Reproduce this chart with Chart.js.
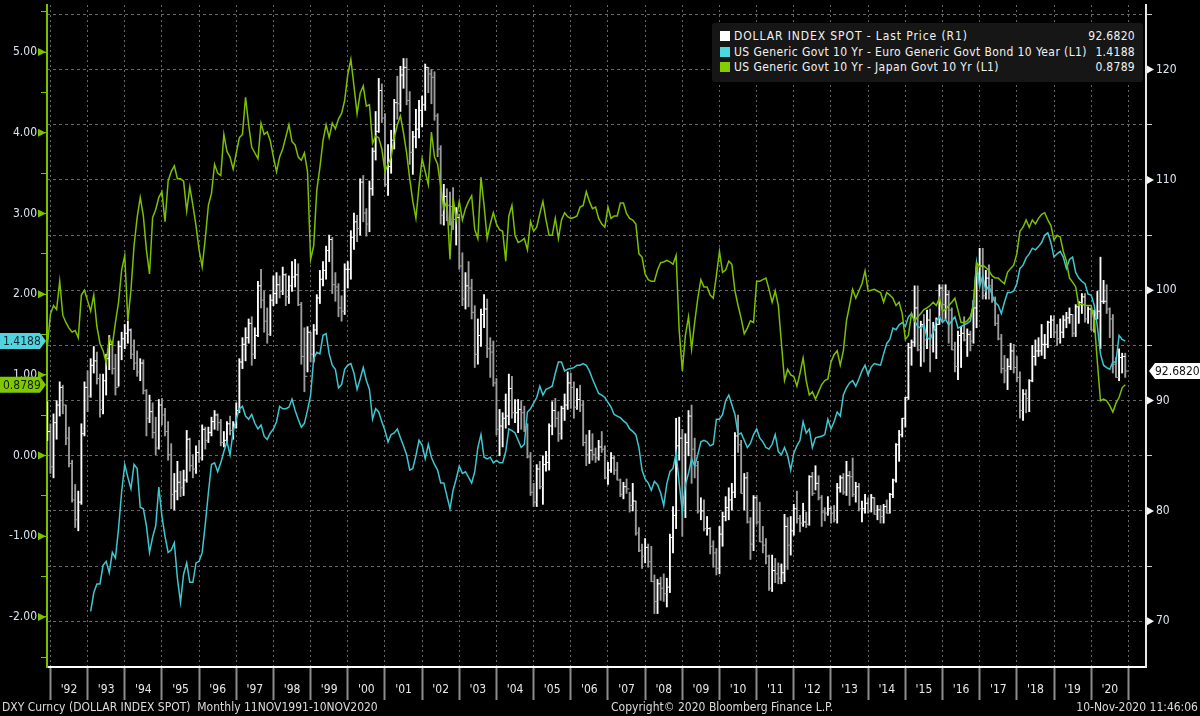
<!DOCTYPE html>
<html>
<head>
<meta charset="utf-8">
<title>DXY vs US 10Y spreads</title>
<script src="https://cdn.jsdelivr.net/npm/chart.js@4.4.1/dist/chart.umd.min.js"></script>
<style>
  html, body { margin: 0; padding: 0; background: #000; }
  #wrap { position: relative; width: 1200px; height: 716px; overflow: hidden; background: #000;
          font-family: 'DejaVu Sans Condensed', 'DejaVu Sans', sans-serif; }
  #chart { position: absolute; left: 0; top: 0; }
  #legend { position: absolute; left: 712px; top: 23px; width: 431px; height: 59px;
            background: #161616; border-radius: 3px; color: #f2f2f2; font-size: 12px; }
  #legend .row { position: absolute; left: 8px; right: 8px; height: 15px; line-height: 15px; white-space: nowrap; }
  #legend .sq { position: absolute; left: 0; top: 2px; width: 10px; height: 10px; }
  #legend .lbl { position: absolute; left: 14px; letter-spacing: 0.4px; }
  #legend .lbl.wide { letter-spacing: 0.9px; }
  #legend .val { position: absolute; right: 0; letter-spacing: 0.3px; }
  .foot { position: absolute; top: 699px; line-height: 16px; font-size: 12px; color: #dcdcdc; white-space: nowrap; }
</style>
</head>
<body>
<div id="wrap">
  <canvas id="chart" width="1200" height="716"></canvas>
  <div id="legend">
    <div class="row" style="top:6px"><span class="sq" style="background:#ffffff"></span><span class="lbl wide">DOLLAR INDEX SPOT - Last Price (R1)</span><span class="val" id="vDxy"></span></div>
    <div class="row" style="top:22px"><span class="sq" style="background:#4dd8e0"></span><span class="lbl">US Generic Govt 10 Yr - Euro Generic Govt Bond 10 Year (L1)</span><span class="val" id="vEuro"></span></div>
    <div class="row" style="top:37px"><span class="sq" style="background:#84cc00"></span><span class="lbl">US Generic Govt 10 Yr - Japan Govt 10 Yr (L1)</span><span class="val" id="vJapan"></span></div>
  </div>
  <span class="foot" style="left:2px">DXY Curncy (DOLLAR INDEX SPOT)&nbsp; Monthly 11NOV1991-10NOV2020</span>
  <span class="foot" style="left:611px">Copyright© 2020 Bloomberg Finance L.P.</span>
  <span class="foot" style="right:2px">10-Nov-2020 11:46:06</span>
</div>
<script>
// monthly bars, Nov 1991 .. Nov 2020 (one row per year)
const dxyHigh = [
  89.9, 87.9,
  88.8, 90.0, 91.7, 91.4, 89.6, 87.6, 84.6, 82.4, 81.8, 87.9, 91.7, 92.7,
  93.8, 94.9, 94.4, 92.4, 92.4, 94.2, 95.9, 95.4, 94.2, 95.4, 96.2, 96.9,
  97.2, 96.5, 95.5, 94.5, 93.8, 93.7, 91.0, 90.5, 89.8, 88.5, 90.1, 90.2,
  89.3, 88.1, 86.1, 83.4, 84.5, 83.6, 83.7, 87.3, 86.6, 85.1, 85.9, 86.4,
  87.8, 87.6, 87.6, 88.5, 89.1, 88.8, 88.3, 87.2, 88.1, 88.6, 88.1, 89.8,
  93.8, 95.7, 96.6, 97.4, 97.6, 96.6, 100.8, 101.9, 99.9, 98.4, 99.6, 101.3,
  101.6, 101.3, 102.1, 101.5, 101.3, 102.6, 102.8, 102.4, 98.9, 96.6, 96.7, 96.2,
  96.9, 99.6, 101.8, 102.6, 104.0, 105.0, 104.8, 101.6, 100.6, 99.5, 102.4, 102.6,
  105.4, 107.0, 106.8, 110.1, 110.4, 107.4, 109.9, 112.9, 116.2, 119.2, 118.7, 116.0,
  113.2, 114.5, 117.3, 119.4, 120.3, 121.0, 121.0, 118.0, 114.4, 116.4, 117.2, 117.6,
  120.5, 120.2, 120.0, 119.8, 116.0, 113.1, 109.6, 109.2, 108.9, 109.3, 107.5, 106.9,
  103.4, 101.6, 102.6, 101.0, 98.6, 97.4, 98.3, 99.6, 99.2, 95.7, 95.4, 92.0,
  89.2, 88.9, 90.6, 92.4, 92.2, 90.1, 90.1, 90.0, 89.5, 87.9, 85.3, 82.5,
  84.2, 84.5, 85.0, 85.4, 87.9, 89.9, 90.2, 89.0, 89.5, 90.6, 92.6, 92.5,
  91.7, 91.1, 91.4, 90.0, 86.9, 87.3, 87.0, 85.7, 86.4, 87.2, 85.9, 84.4,
  85.3, 85.0, 84.4, 82.9, 82.6, 82.9, 81.7, 82.5, 80.9, 78.5, 77.0, 77.5,
  77.0, 76.8, 74.2, 73.8, 74.0, 74.3, 73.9, 77.9, 80.4, 88.4, 88.5, 87.4,
  87.0, 89.1, 89.6, 86.6, 84.5, 81.2, 81.0, 79.5, 78.5, 77.3, 76.6, 78.6,
  79.9, 81.3, 82.1, 82.5, 87.1, 88.7, 86.4, 83.4, 83.5, 79.4, 81.4, 81.4,
  80.8, 78.6, 77.5, 76.0, 76.0, 75.7, 75.3, 75.2, 79.7, 79.4, 79.5, 80.6,
  81.8, 79.6, 80.7, 79.9, 83.2, 83.5, 84.1, 83.2, 81.4, 80.3, 81.3, 80.4,
  80.5, 82.5, 83.2, 83.4, 84.5, 83.6, 84.8, 82.6, 82.5, 80.9, 81.5, 81.2,
  81.5, 81.2, 80.5, 80.5, 80.6, 81.0, 81.6, 82.9, 86.1, 87.3, 88.4, 90.3,
  95.2, 95.5, 100.4, 100.4, 97.2, 97.8, 98.2, 98.3, 97.1, 97.5, 100.5, 100.5,
  100.5, 99.9, 98.4, 95.3, 96.3, 96.7, 97.6, 96.5, 96.3, 99.1, 102.1, 103.8,
  103.8, 101.8, 102.3, 101.0, 99.4, 97.8, 96.0, 94.1, 93.8, 95.2, 95.1, 94.0,
  92.6, 91.0, 91.0, 91.9, 95.0, 95.5, 95.7, 96.9, 96.0, 97.2, 97.7, 97.7,
  96.9, 97.4, 97.7, 98.0, 98.4, 97.8, 98.7, 99.0, 99.7, 99.7, 98.5, 98.4,
  98.2, 99.9, 103.0, 100.9, 100.5, 98.4, 97.8, 93.9, 94.7, 94.3, 94.3
];
const dxyLow = [
  86.4, 83.4,
  83.0, 86.5, 88.6, 88.8, 86.0, 84.0, 80.8, 78.5, 78.2, 80.6, 86.8, 89.0,
  90.3, 92.5, 91.5, 88.5, 88.8, 90.5, 92.8, 92.4, 90.5, 91.3, 93.7, 94.7,
  95.2, 93.8, 92.8, 92.2, 91.8, 90.6, 86.8, 88.0, 86.6, 85.1, 85.6, 87.8,
  86.8, 84.6, 80.2, 80.1, 81.0, 81.3, 81.4, 82.6, 83.6, 83.0, 83.4, 84.4,
  84.6, 85.6, 86.2, 86.8, 87.4, 87.3, 85.9, 85.8, 86.2, 86.9, 86.5, 87.5,
  88.9, 92.9, 93.6, 95.2, 93.2, 93.8, 95.8, 98.4, 96.2, 95.2, 95.9, 98.6,
  98.8, 99.3, 99.6, 98.6, 98.8, 99.9, 100.3, 98.6, 93.3, 90.8, 92.6, 93.5,
  93.5, 96.0, 98.8, 100.4, 101.0, 102.6, 99.7, 99.0, 97.6, 97.2, 97.8, 100.2,
  101.0, 103.7, 104.4, 105.0, 106.2, 104.9, 105.3, 108.6, 111.8, 114.3, 115.2, 109.4,
  108.6, 110.6, 112.8, 115.5, 116.2, 118.3, 116.8, 111.4, 110.5, 112.9, 113.8, 114.8,
  116.3, 117.9, 116.9, 115.4, 112.1, 106.0, 105.9, 106.3, 105.9, 105.5, 104.1, 101.9,
  98.6, 98.3, 98.5, 97.4, 93.0, 93.3, 94.9, 96.6, 93.9, 92.1, 91.3, 86.9,
  85.0, 85.8, 87.5, 87.8, 88.4, 88.0, 87.1, 87.4, 87.2, 84.8, 81.4, 80.4,
  80.4, 82.0, 80.6, 83.6, 83.7, 86.9, 87.6, 86.3, 86.5, 88.2, 89.2, 89.3,
  88.4, 89.2, 89.0, 85.9, 84.1, 84.3, 84.6, 84.4, 84.6, 85.3, 82.9, 82.4,
  83.5, 83.3, 82.8, 81.3, 81.1, 81.6, 79.9, 80.0, 77.8, 76.3, 74.8, 75.3,
  74.9, 73.6, 70.7, 70.7, 71.9, 71.8, 71.3, 72.6, 76.2, 78.4, 84.6, 77.7,
  79.4, 85.0, 82.5, 83.0, 79.8, 79.2, 78.2, 77.8, 76.1, 74.9, 74.2, 74.3,
  76.8, 79.1, 79.2, 80.1, 81.2, 85.3, 81.6, 80.1, 78.9, 75.6, 76.4, 78.8,
  77.2, 76.2, 75.2, 72.8, 72.7, 73.5, 73.4, 73.4, 73.6, 74.7, 76.0, 77.8,
  78.9, 78.1, 78.6, 78.5, 78.7, 81.4, 81.9, 81.0, 78.6, 79.1, 79.6, 78.9,
  79.0, 78.9, 81.7, 81.5, 81.4, 80.5, 81.3, 80.8, 80.0, 79.0, 79.8, 79.8,
  79.9, 79.7, 79.2, 78.9, 78.9, 79.8, 79.8, 81.2, 82.6, 84.5, 86.7, 87.6,
  90.1, 93.2, 94.9, 94.5, 93.1, 93.5, 94.7, 92.6, 94.4, 93.8, 96.9, 97.2,
  97.4, 95.2, 94.6, 92.6, 91.9, 93.0, 95.4, 94.0, 94.5, 95.2, 96.6, 100.6,
  99.2, 99.2, 99.2, 98.9, 96.8, 95.5, 92.5, 91.6, 91.0, 92.8, 92.5, 91.7,
  88.4, 88.2, 88.9, 89.0, 91.7, 93.2, 94.0, 94.1, 93.8, 94.8, 95.7, 95.7,
  95.0, 95.2, 95.7, 96.6, 97.0, 95.8, 95.8, 97.0, 97.9, 97.1, 97.0, 96.4,
  96.2, 97.4, 94.7, 98.8, 97.9, 95.7, 92.5, 92.1, 91.8, 92.5, 92.1
];
const dxyClose = [
  87.2, 84.0,
  88.0, 89.6, 91.2, 89.6, 86.6, 84.3, 81.0, 79.2, 80.8, 87.0, 91.2, 90.4,
  93.2, 93.6, 92.0, 89.2, 91.8, 93.8, 95.1, 92.9, 91.2, 94.9, 95.6, 96.1,
  96.4, 94.2, 93.4, 92.6, 93.4, 90.9, 88.4, 89.0, 87.1, 85.7, 89.6, 88.7,
  87.2, 85.1, 81.5, 81.8, 82.6, 82.1, 82.8, 86.5, 84.1, 83.8, 85.3, 84.8,
  87.4, 86.4, 87.1, 88.1, 88.7, 88.0, 86.2, 86.4, 87.9, 87.3, 87.8, 89.1,
  93.5, 95.1, 95.7, 97.0, 94.2, 95.9, 100.4, 99.1, 97.2, 96.0, 99.1, 99.7,
  100.5, 99.9, 101.4, 99.4, 100.4, 101.2, 101.4, 98.7, 94.0, 92.2, 96.2, 94.2,
  96.4, 99.3, 101.0, 101.8, 103.6, 104.6, 100.5, 100.3, 98.4, 98.1, 101.9, 101.9,
  104.8, 106.2, 105.6, 109.8, 107.0, 106.0, 109.2, 112.6, 114.4, 118.1, 115.6, 109.6,
  111.2, 113.6, 117.0, 116.9, 119.5, 120.2, 117.2, 112.5, 113.9, 114.6, 116.3, 116.8,
  120.2, 119.6, 119.3, 115.8, 112.8, 106.8, 108.5, 107.7, 107.6, 106.4, 106.6, 102.2,
  99.2, 100.4, 100.2, 98.0, 94.2, 95.9, 97.8, 98.3, 94.7, 94.4, 91.6, 87.4,
  87.7, 88.4, 88.6, 91.1, 88.9, 88.9, 89.2, 88.9, 87.6, 84.9, 81.7, 80.8,
  83.8, 82.2, 84.2, 84.4, 87.7, 89.1, 88.4, 87.0, 89.3, 89.6, 91.6, 91.2,
  89.4, 90.1, 89.6, 86.2, 85.1, 85.5, 85.1, 84.8, 85.8, 85.6, 83.0, 83.7,
  84.8, 83.7, 82.8, 81.5, 82.2, 82.0, 80.5, 80.9, 78.0, 76.4, 75.9, 76.7,
  75.4, 73.6, 71.8, 73.4, 73.0, 72.5, 73.1, 77.6, 79.6, 85.9, 86.6, 81.3,
  86.2, 88.6, 85.6, 84.1, 80.0, 80.0, 78.4, 78.4, 76.8, 76.2, 74.8, 77.9,
  79.5, 80.3, 81.0, 81.7, 86.8, 86.0, 81.6, 83.0, 79.0, 77.0, 81.2, 79.0,
  77.2, 76.9, 75.9, 73.0, 74.6, 74.3, 73.9, 74.4, 78.6, 76.9, 78.2, 80.2,
  79.3, 78.9, 79.0, 78.8, 83.1, 81.6, 82.5, 81.2, 79.9, 79.8, 80.2, 79.8,
  79.2, 82.1, 83.0, 81.7, 83.2, 83.1, 81.5, 82.2, 80.2, 80.2, 80.7, 80.0,
  81.2, 79.7, 80.1, 79.5, 80.4, 79.8, 81.5, 82.8, 86.0, 86.9, 88.4, 90.3,
  94.8, 95.3, 98.4, 94.6, 96.9, 95.5, 97.3, 95.8, 96.4, 96.9, 100.2, 98.7,
  99.6, 98.2, 94.6, 93.1, 95.9, 96.1, 95.5, 96.0, 95.4, 98.4, 101.5, 102.2,
  99.5, 101.1, 100.4, 99.1, 97.0, 95.6, 92.9, 92.7, 93.1, 94.5, 93.0, 92.1,
  89.1, 90.6, 90.2, 91.8, 94.0, 94.5, 94.5, 95.1, 95.1, 97.1, 97.3, 96.2,
  95.6, 96.2, 97.3, 97.5, 97.8, 96.1, 98.5, 98.9, 99.4, 97.4, 98.3, 96.4,
  97.4, 98.1, 99.0, 99.0, 98.3, 97.4, 93.3, 92.1, 93.9, 94.0, 92.682
];
// US 10Y minus Bund 10Y (L1), series starts in 1993
const euroSpread = [
  null, null,
  null, null, null, null, null, null, null, null, null, null, null, null,
  -1.93, -1.70, -1.59, -1.59, -1.36, -1.31, -1.45, -1.20, -1.27, -0.90, -0.45, -0.11,
  -0.27, -0.41, -0.11, -0.16, -0.64, -0.66, -0.87, -1.20, -1.01, -0.87, -0.39, -0.75,
  -1.00, -1.20, -1.17, -1.08, -1.52, -1.82, -1.47, -1.33, -1.57, -1.57, -1.33, -1.31,
  -1.20, -0.85, -0.46, -0.11, -0.09, -0.20, -0.09, 0.05, 0.17, 0.01, 0.30, 0.45,
  0.58, 0.61, 0.49, 0.45, 0.51, 0.40, 0.33, 0.38, 0.24, 0.20, 0.28, 0.33,
  0.42, 0.61, 0.58, 0.58, 0.60, 0.70, 0.56, 0.45, 0.35, 0.40, 0.56, 0.75,
  1.20, 1.28, 1.26, 1.49, 1.51, 1.26, 1.12, 1.07, 0.84, 0.88, 1.07, 1.12,
  1.14, 1.02, 0.82, 0.95, 1.09, 0.93, 0.82, 0.45, 0.58, 0.54, 0.42, 0.31,
  0.17, 0.26, 0.28, 0.33, 0.22, 0.12, 0.01, -0.18, -0.16, 0.00, 0.19, 0.13,
  -0.04, 0.14, -0.02, -0.11, -0.18, -0.34, -0.34, -0.50, -0.66, -0.43, -0.29, -0.13,
  -0.22, -0.20, -0.27, -0.34, -0.20, 0.10, 0.26, -0.02, -0.04, -0.02, -0.09, -0.06,
  -0.09, -0.09, 0.05, 0.33, 0.31, 0.28, 0.19, 0.10, 0.14, 0.54, 0.58, 0.65,
  0.72, 0.86, 0.75, 0.82, 0.84, 0.86, 1.02, 1.16, 1.16, 1.05, 1.07, 1.08,
  1.09, 1.12, 1.12, 1.14, 1.12, 1.05, 0.95, 0.86, 0.77, 0.75, 0.72, 0.66,
  0.60, 0.51, 0.49, 0.47, 0.43, 0.40, 0.33, 0.30, 0.26, 0.10, -0.18, -0.29,
  -0.34, -0.43, -0.32, -0.36, -0.46, -0.62, -0.35, -0.20, -0.16, 0.03, -0.34, -0.69,
  -0.36, -0.22, -0.04, -0.13, 0.01, 0.17, 0.19, 0.17, 0.12, 0.14, 0.45, 0.45,
  0.51, 0.68, 0.75, 0.63, 0.51, 0.26, 0.28, 0.19, 0.10, 0.15, 0.26, 0.33,
  0.22, 0.17, 0.10, 0.08, 0.14, 0.26, 0.05, 0.01, 0.10, 0.00, -0.18, 0.03,
  0.12, 0.19, 0.42, 0.28, 0.33, 0.10, 0.22, 0.23, 0.24, 0.26, 0.45, 0.33,
  0.42, 0.54, 0.49, 0.75, 0.84, 0.90, 0.93, 0.86, 0.95, 1.05, 1.12, 1.00,
  1.10, 1.14, 1.13, 1.12, 1.26, 1.39, 1.44, 1.58, 1.56, 1.62, 1.65, 1.60,
  1.72, 1.76, 1.67, 1.60, 1.58, 1.62, 1.46, 1.44, 1.53, 1.67, 1.72, 1.65,
  1.69, 1.62, 1.67, 1.72, 1.58, 1.60, 1.62, 1.64, 1.67, 1.90, 2.39, 2.09,
  2.23, 2.04, 2.11, 1.99, 1.90, 1.86, 1.76, 1.90, 2.02, 2.02, 2.04, 2.13,
  2.32, 2.36, 2.45, 2.50, 2.57, 2.55, 2.59, 2.64, 2.73, 2.76, 2.64, 2.46,
  2.50, 2.53, 2.46, 2.32, 2.43, 2.46, 2.27, 2.20, 2.16, 2.13, 2.00, 1.99,
  1.86, 1.60, 1.26, 1.12, 1.09, 1.07, 1.16, 1.16, 1.49, 1.44, 1.4188
];
// US 10Y minus JGB 10Y (L1)
const japanSpread = [
  1.35, 1.75,
  1.86, 1.81, 2.16, 1.74, 1.65, 1.58, 1.53, 1.55, 1.46, 1.99, 2.05, 1.92,
  1.79, 1.99, 1.60, 1.39, 1.30, 1.15, 1.46, 1.37, 1.65, 1.90, 2.30, 2.48,
  1.67, 2.05, 2.60, 2.95, 3.20, 2.97, 2.55, 2.25, 2.95, 3.05, 3.20, 3.27,
  2.90, 3.40, 3.52, 3.59, 3.43, 3.43, 3.40, 3.03, 3.33, 3.10, 2.85, 2.55,
  2.34, 2.69, 3.10, 3.25, 3.61, 3.50, 3.47, 3.98, 3.77, 3.70, 3.55, 3.75,
  3.94, 3.98, 4.44, 4.10, 3.82, 3.75, 3.68, 4.12, 3.98, 4.01, 3.90, 3.70,
  3.52, 3.70, 3.80, 3.95, 4.10, 3.89, 3.85, 3.70, 3.66, 3.75, 3.52, 2.43,
  2.60, 3.29, 3.57, 3.90, 4.10, 3.94, 4.12, 4.05, 4.17, 4.24, 4.40, 4.72,
  4.91, 4.58, 4.24, 4.49, 4.58, 4.33, 4.35, 3.87, 3.96, 3.94, 3.80, 3.52,
  3.61, 3.70, 3.94, 4.10, 4.21, 4.00, 3.75, 3.43, 3.15, 2.94, 3.34, 3.68,
  3.52, 3.36, 4.01, 3.70, 3.61, 3.34, 3.06, 3.15, 2.43, 3.20, 2.92, 3.15,
  2.92, 3.06, 3.15, 3.22, 2.80, 2.69, 3.45, 3.10, 2.69, 2.87, 3.01, 2.87,
  2.80, 2.78, 2.41, 2.97, 3.10, 2.73, 2.64, 2.66, 2.69, 2.55, 2.90, 2.78,
  2.83, 3.00, 3.15, 2.92, 2.73, 2.73, 2.94, 2.69, 2.92, 3.01, 2.96, 2.94,
  2.95, 2.97, 3.08, 3.10, 3.27, 3.15, 3.06, 3.08, 2.94, 2.87, 2.83, 3.08,
  2.94, 2.97, 2.97, 3.13, 3.13, 3.00, 2.94, 2.92, 2.87, 2.50, 2.46, 2.25,
  2.18, 2.16, 2.16, 2.30, 2.39, 2.40, 2.42, 2.40, 2.37, 2.48, 1.55, 1.05,
  1.49, 1.72, 1.32, 1.65, 1.95, 2.18, 2.09, 2.09, 1.99, 1.95, 2.23, 2.53,
  2.27, 2.30, 2.41, 2.37, 2.04, 1.86, 1.70, 1.51, 1.58, 1.67, 1.65, 2.16,
  2.16, 2.18, 2.20, 2.06, 1.90, 2.04, 1.86, 1.39, 0.93, 1.07, 1.00, 0.98,
  0.86, 1.02, 1.21, 0.93, 0.75, 0.79, 0.70, 0.79, 0.88, 0.93, 0.95, 1.16,
  1.25, 1.30, 1.12, 1.30, 1.67, 1.86, 2.06, 1.95, 2.04, 2.13, 2.29, 2.04,
  2.05, 2.06, 2.04, 2.02, 1.90, 2.02, 1.99, 1.95, 1.86, 1.90, 1.76, 1.44,
  1.49, 1.76, 1.67, 1.72, 1.76, 1.81, 1.83, 1.86, 1.90, 1.86, 1.95, 1.79,
  1.81, 1.86, 1.90, 1.95, 1.80, 1.65, 1.65, 1.67, 1.72, 1.86, 2.39, 2.34,
  2.36, 2.33, 2.29, 2.23, 2.20, 2.20, 2.16, 2.13, 2.27, 2.32, 2.36, 2.50,
  2.78, 2.83, 2.92, 2.83, 2.92, 2.87, 2.94, 2.99, 3.01, 2.92, 2.85, 2.67,
  2.73, 2.71, 2.53, 2.41, 2.20, 2.15, 2.09, 1.86, 1.88, 1.86, 1.86, 1.86,
  1.67, 1.16, 0.68, 0.70, 0.68, 0.62, 0.54, 0.65, 0.72, 0.84, 0.8789
];
const yearLabels = ["'92", "'93", "'94", "'95", "'96", "'97", "'98", "'99", "'00", "'01",
  "'02", "'03", "'04", "'05", "'06", "'07", "'08", "'09", "'10", "'11",
  "'12", "'13", "'14", "'15", "'16", "'17", "'18", "'19", "'20"];
const leftLabels = [-2, -1, 0, 1, 2, 3, 4, 5];
const rightLabels = [70, 80, 90, 100, 110, 120];
const lastDxy = 92.6820;
const lastEuro = 1.4188;
const lastJapan = 0.8789;

const FONT = "'DejaVu Sans Condensed', 'DejaVu Sans', sans-serif";
const GREEN = '#7cc000';
const CYAN = '#3fc6cf';

document.getElementById('vDxy').textContent = lastDxy.toFixed(4);
document.getElementById('vEuro').textContent = lastEuro.toFixed(4);
document.getElementById('vJapan').textContent = lastJapan.toFixed(4);

// month position: 0 = start of 1992, each bar sits at its month end
const xs = dxyClose.map((_, i) => i - 1);
const barColors = dxyClose.map((c, i) => (i === 0 || c >= dxyClose[i - 1]) ? '#ffffff' : '#9c9c9c');

const leftTickValues = [];
leftLabels.forEach(v => { leftTickValues.push(v - 0.5, v); });
leftTickValues.push(5.5);
const rightTickValues = [];
rightLabels.forEach(v => { rightTickValues.push(v, v + 5); });

function fixBox(w, h) {
  return function(scale) {
    if (w !== null) scale.width = w;
    if (h !== null) scale.height = h;
    scale.paddingTop = 0; scale.paddingBottom = 0;
    scale.paddingLeft = 0; scale.paddingRight = 0;
  };
}

function badge(ctx, side, y, text, bg, fg) {
  ctx.save();
  ctx.fillStyle = bg;
  ctx.beginPath();
  if (side === 'left') {
    ctx.moveTo(0, y - 8); ctx.lineTo(40, y - 8); ctx.lineTo(46, y);
    ctx.lineTo(40, y + 8); ctx.lineTo(0, y + 8);
  } else {
    ctx.moveTo(1149, y); ctx.lineTo(1155, y - 8); ctx.lineTo(1200, y - 8);
    ctx.lineTo(1200, y + 8); ctx.lineTo(1155, y + 8);
  }
  ctx.closePath();
  ctx.fill();
  ctx.fillStyle = fg;
  ctx.font = '12px ' + FONT;
  ctx.textBaseline = 'middle';
  ctx.textAlign = 'left';
  ctx.fillText(text, side === 'left' ? 3 : 1155, y + 1);
  ctx.restore();
}

const axisMarks = {
  id: 'axisMarks',
  afterDraw(chart) {
    const ctx = chart.ctx;
    const area = chart.chartArea;
    const yL = chart.scales.yL;
    const yR = chart.scales.yR;
    ctx.save();
    ctx.fillStyle = GREEN;
    leftLabels.forEach(v => {
      const y = yL.getPixelForValue(v);
      ctx.beginPath();
      ctx.moveTo(area.left - 9, y - 4); ctx.lineTo(area.left - 1, y); ctx.lineTo(area.left - 9, y + 4);
      ctx.closePath(); ctx.fill();
    });
    ctx.fillStyle = '#f4f4f4';
    rightLabels.forEach(v => {
      const y = yR.getPixelForValue(v);
      ctx.beginPath();
      ctx.moveTo(area.right + 1, y - 4); ctx.lineTo(area.right + 8, y); ctx.lineTo(area.right + 1, y + 4);
      ctx.closePath(); ctx.fill();
    });
    ctx.restore();
    badge(ctx, 'left', yL.getPixelForValue(lastEuro), lastEuro.toFixed(4), '#52d4de', '#0c2a33');
    badge(ctx, 'left', yL.getPixelForValue(lastJapan), lastJapan.toFixed(4), '#80c800', '#132400');
    badge(ctx, 'right', yR.getPixelForValue(lastDxy), lastDxy.toFixed(4), '#ffffff', '#111111');
  }
};

Chart.defaults.font.family = FONT;
Chart.defaults.font.size = 12;

new Chart(document.getElementById('chart').getContext('2d'), {
  type: 'bar',
  data: {
    datasets: [
      {
        type: 'line',
        label: 'US Generic Govt 10 Yr - Japan Govt 10 Yr (L1)',
        yAxisID: 'yL',
        data: xs.map((m, i) => ({ x: m, y: japanSpread[i] })),
        borderColor: GREEN,
        borderWidth: 1.5,
        pointRadius: 0,
        tension: 0,
        order: 1
      },
      {
        type: 'line',
        label: 'US Generic Govt 10 Yr - Euro Generic Govt Bond 10 Year (L1)',
        yAxisID: 'yL',
        data: xs.map((m, i) => ({ x: m, y: euroSpread[i] })),
        borderColor: CYAN,
        borderWidth: 1.5,
        pointRadius: 0,
        tension: 0,
        spanGaps: false,
        order: 2
      },
      {
        type: 'line',
        label: 'DXY close',
        yAxisID: 'yR',
        data: xs.map((m, i) => ({ x: m, y: dxyClose[i] })),
        showLine: false,
        pointStyle: 'dash',
        pointRadius: 3,
        pointBorderWidth: 1,
        pointBorderColor: barColors,
        pointBackgroundColor: barColors,
        order: 3
      },
      {
        label: 'DOLLAR INDEX SPOT - Last Price (R1)',
        yAxisID: 'yR',
        data: xs.map((m, i) => ({ x: m, y: [dxyLow[i], dxyHigh[i]] })),
        backgroundColor: barColors,
        borderWidth: 0,
        barThickness: 1.2,
        order: 4
      }
    ]
  },
  options: {
    responsive: false,
    animation: false,
    events: [],
    layout: { padding: 0 },
    plugins: { legend: { display: false }, tooltip: { enabled: false } },
    scales: {
      x: {
        type: 'linear',
        offset: false,
        min: -1.1,
        max: 353.7,
        afterBuildTicks: s => { s.ticks = yearLabels.concat(['']).map((_, k) => ({ value: k * 12 })); },
        afterFit: fixBox(null, 49),
        grid: { offset: false, color: '#666666', lineWidth: 1, drawTicks: true, tickLength: 33,
                tickColor: '#8c8c8c', tickWidth: 2, tickBorderDash: [40, 0] },
        border: { display: true, color: '#ffffff', width: 2, dash: [2, 3] },
        ticks: {
          autoSkip: false, maxRotation: 0, labelOffset: 18.6, padding: -17,
          color: '#e8e8e8', font: { size: 12 },
          callback: (v, i) => yearLabels[i] || ''
        }
      },
      yL: {
        position: 'left',
        min: -2.62,
        max: 5.584,
        afterBuildTicks: s => { s.ticks = leftTickValues.map(v => ({ value: v })); },
        afterFit: fixBox(47, null),
        grid: { drawOnChartArea: false, color: GREEN, tickLength: 6, tickWidth: 1 },
        border: { color: GREEN, width: 2 },
        ticks: {
          autoSkip: false, padding: 4, color: '#d8e4f0', font: { size: 12 },
          callback: v => Number.isInteger(v) ? v.toFixed(2) : ''
        }
      },
      yR: {
        position: 'right',
        min: 65.86,
        max: 125.85,
        afterBuildTicks: s => { s.ticks = rightTickValues.map(v => ({ value: v })); },
        afterFit: fixBox(54, null),
        grid: { color: '#666666', lineWidth: 1, tickLength: 6, tickColor: '#d0d0d0',
                tickWidth: 1, tickBorderDash: [40, 0] },
        border: { color: '#e6e6e6', width: 2, dash: [3, 3] },
        ticks: {
          autoSkip: false, padding: 4, color: '#dce6f0', font: { size: 12 },
          callback: v => (v % 10 === 0) ? String(v) : ''
        }
      }
    }
  },
  plugins: [axisMarks]
});
</script>
</body>
</html>
